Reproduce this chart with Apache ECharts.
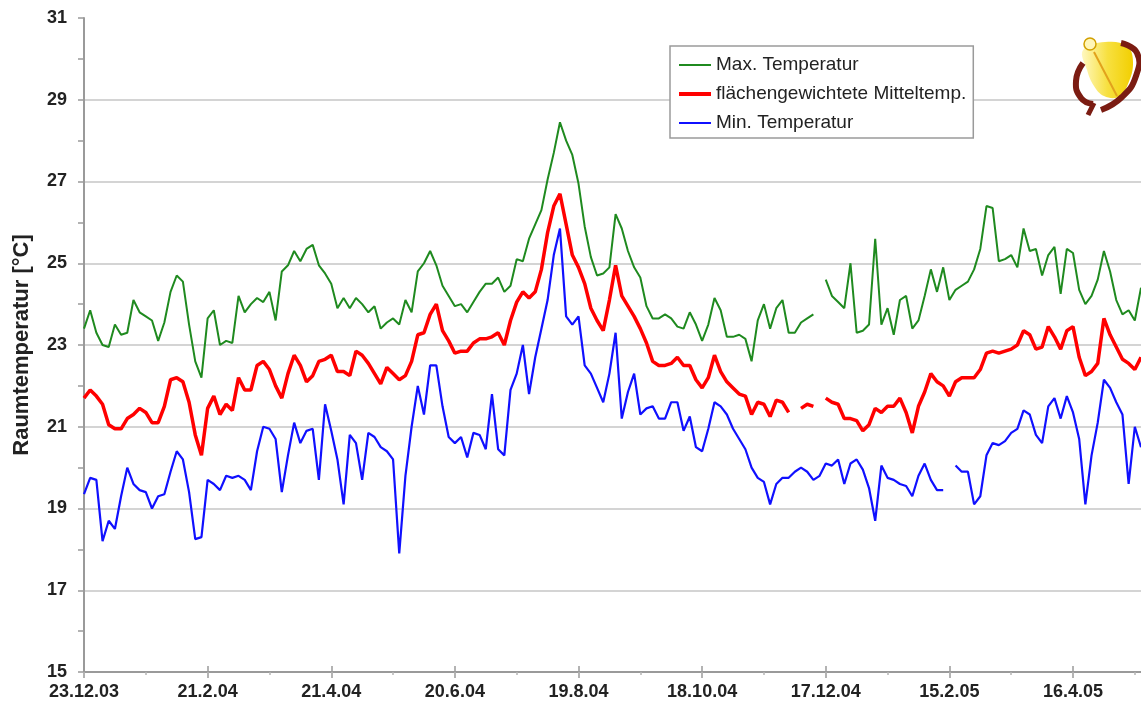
<!DOCTYPE html>
<html>
<head>
<meta charset="utf-8">
<script src="https://cdn.jsdelivr.net/npm/echarts@6/dist/echarts.min.js"></script>
<style>
html,body{margin:0;padding:0;background:#fff;}
#chart{width:1141px;height:710px;}
</style>
</head>
<body>
<div id="chart"></div>
<script>
// ---- data (one sample every 3 days, starting 23.12.2003) ----
const startDate = [2003, 12, 23];
const stepDays = 3;
const tickLabels = ['23.12.03','21.2.04','21.4.04','20.6.04','19.8.04','18.10.04','17.12.04','15.2.05','16.4.05'];
const seriesNames = ['Max. Temperatur', 'flächengewichtete Mitteltemp.', 'Min. Temperatur'];

const maxTemp = [
 23.4,23.85,23.3,23.0,22.95,23.5,23.25,23.3,24.1,23.8,
 23.7,23.6,23.1,23.55,24.3,24.7,24.55,23.5,22.6,22.2,
 23.65,23.85,23.0,23.1,23.05,24.2,23.8,24.0,24.15,24.05,
 24.3,23.6,24.8,24.95,25.3,25.05,25.35,25.45,24.95,24.75,
 24.5,23.9,24.15,23.9,24.15,24.0,23.8,23.95,23.4,23.55,
 23.65,23.5,24.1,23.8,24.8,25.0,25.3,24.95,24.45,24.2,
 23.95,24.0,23.8,24.05,24.3,24.5,24.5,24.65,24.3,24.45,
 25.1,25.05,25.6,25.95,26.3,27.05,27.7,28.45,28.0,27.65,
 26.95,25.9,25.15,24.7,24.75,24.9,26.2,25.85,25.3,24.9,
 24.65,23.95,23.65,23.65,23.75,23.65,23.45,23.4,23.8,23.5,
 23.1,23.5,24.15,23.85,23.2,23.2,23.25,23.15,22.6,23.6,
 24.0,23.4,23.9,24.1,23.3,23.3,23.55,23.65,23.75,null,
 24.6,24.2,24.05,23.9,25.0,23.3,23.35,23.5,25.6,23.5,
 23.9,23.25,24.1,24.2,23.4,23.6,24.2,24.85,24.3,24.9,
 24.1,24.35,24.45,24.55,24.85,25.35,26.4,26.35,25.05,25.1,
 25.2,24.9,25.85,25.3,25.35,24.7,25.2,25.4,24.25,25.35,
 25.25,24.35,24.0,24.2,24.6,25.3,24.8,24.1,23.75,23.85,
 23.6,24.4
];
const meanTemp = [
 21.7,21.9,21.75,21.55,21.05,20.95,20.95,21.2,21.3,21.45,
 21.35,21.1,21.1,21.5,22.15,22.2,22.1,21.6,20.8,20.3,
 21.45,21.75,21.3,21.55,21.4,22.2,21.9,21.9,22.5,22.6,
 22.4,22.0,21.7,22.3,22.75,22.5,22.1,22.25,22.6,22.65,
 22.75,22.35,22.35,22.25,22.85,22.75,22.55,22.3,22.05,22.45,
 22.3,22.15,22.25,22.6,23.25,23.3,23.75,24.0,23.35,23.1,
 22.8,22.85,22.85,23.05,23.15,23.15,23.2,23.3,23.0,23.6,
 24.05,24.3,24.15,24.3,24.85,25.75,26.4,26.7,25.95,25.2,
 24.9,24.5,23.9,23.6,23.35,24.1,24.95,24.2,23.95,23.7,
 23.4,23.05,22.6,22.5,22.5,22.55,22.7,22.5,22.5,22.15,
 21.95,22.2,22.75,22.35,22.1,21.95,21.8,21.75,21.3,21.6,
 21.55,21.25,21.65,21.6,21.35,null,21.45,21.55,21.5,null,
 21.7,21.6,21.55,21.2,21.2,21.15,20.9,21.05,21.45,21.35,
 21.5,21.5,21.7,21.35,20.85,21.5,21.85,22.3,22.1,22.0,
 21.75,22.1,22.2,22.2,22.2,22.4,22.8,22.85,22.8,22.85,
 22.9,23.0,23.35,23.25,22.9,22.95,23.45,23.2,22.9,23.35,
 23.45,22.7,22.25,22.35,22.55,23.65,23.25,22.95,22.65,22.55,
 22.4,22.7
];
const minTemp = [
 19.35,19.75,19.7,18.2,18.7,18.5,19.3,20.0,19.6,19.45,
 19.4,19.0,19.3,19.35,19.9,20.4,20.2,19.4,18.25,18.3,
 19.7,19.6,19.45,19.8,19.75,19.8,19.7,19.45,20.4,21.0,
 20.95,20.7,19.4,20.3,21.1,20.6,20.9,20.95,19.7,21.55,
 20.9,20.2,19.1,20.8,20.6,19.7,20.85,20.75,20.5,20.4,
 20.2,17.9,19.8,21.0,22.0,21.3,22.5,22.5,21.5,20.75,
 20.6,20.75,20.25,20.85,20.8,20.45,21.8,20.45,20.3,21.9,
 22.3,23.0,21.8,22.7,23.4,24.1,25.2,25.85,23.7,23.5,
 23.7,22.5,22.3,21.95,21.6,22.3,23.3,21.2,21.85,22.3,
 21.3,21.45,21.5,21.2,21.2,21.6,21.6,20.9,21.25,20.5,
 20.4,20.95,21.6,21.5,21.3,20.95,20.7,20.45,20.0,19.75,
 19.65,19.1,19.6,19.75,19.75,19.9,20.0,19.9,19.7,19.8,
 20.1,20.05,20.2,19.6,20.1,20.2,19.95,19.5,18.7,20.05,
 19.75,19.7,19.6,19.55,19.3,19.8,20.1,19.7,19.45,19.45,
 null,20.05,19.9,19.9,19.1,19.3,20.3,20.6,20.55,20.65,
 20.85,20.95,21.4,21.3,20.8,20.6,21.5,21.7,21.2,21.75,
 21.35,20.7,19.1,20.3,21.1,22.15,21.95,21.6,21.3,19.6,
 21.0,20.5
];

// categories: the sample dates
const categories = maxTemp.map(function (_, i) {
  const d = new Date(Date.UTC(startDate[0], startDate[1] - 1, startDate[2] + i * stepDays));
  return d.getUTCDate() + '.' + (d.getUTCMonth() + 1) + '.' + String(d.getUTCFullYear()).slice(2);
});
const labelEvery = 20; // 60 days

const FONT = '"Liberation Sans", Arial, sans-serif';
const GRID_GRAY = '#c6c6c6';
const AXIS_GRAY = '#9a9a9a';
const COLORS = ['#1f8a1f', '#ff0000', '#1010ff'];
const WIDTHS = [2, 3.5, 2.2];

// split line colours for ticks 15..31 (lines only at 17..29 odd)
const splitColors = [];
for (let v = 15; v <= 31; v++) {
  splitColors.push((v % 2 === 1 && v > 15 && v < 31) ? GRID_GRAY : 'rgba(0,0,0,0)');
}

const chart = echarts.init(document.getElementById('chart'), null, {renderer: 'canvas'});

const baseX = {
  type: 'category',
  data: categories,
  boundaryGap: false,
  gridIndex: 0,
  position: 'bottom'
};

chart.setOption({
  animation: false,
  backgroundColor: '#ffffff',
  grid: {left: 84, right: 0, top: 18, bottom: 38, containLabel: false},
  legend: {
    orient: 'vertical',
    left: 670,
    top: 46,
    padding: [9, 7, 5, 7],
    itemGap: 9,
    itemWidth: 32,
    itemHeight: 14,
    borderColor: '#9a9a9a',
    borderWidth: 1.5,
    backgroundColor: '#ffffff',
    itemStyle: {opacity: 0},
    textStyle: {fontFamily: FONT, fontSize: 19, color: '#222', lineHeight: 20},
    data: seriesNames.map(function (n, i) {
      return {name: n, lineStyle: {color: COLORS[i], width: i === 1 ? 4 : 2}};
    })
  },
  xAxis: [
    Object.assign({}, baseX, {
      axisLine: {show: true, lineStyle: {color: AXIS_GRAY, width: 2}},
      axisTick: {show: true, interval: labelEvery - 1, length: 6, lineStyle: {color: AXIS_GRAY, width: 1.5}},
      axisLabel: {
        show: true,
        interval: labelEvery - 1,
        margin: 11,
        fontFamily: FONT, fontSize: 18, fontWeight: 'bold', color: '#222',
        formatter: function (value, index) {
          return index % labelEvery === 0 ? tickLabels[index / labelEvery] : '';
        }
      },
      splitLine: {show: false}
    }),
    Object.assign({}, baseX, {
      axisLine: {show: false},
      axisTick: {show: true, inside: true, interval: labelEvery - 1, length: 6, lineStyle: {color: AXIS_GRAY, width: 1.5}},
      axisLabel: {show: false},
      splitLine: {show: false}
    }),
    Object.assign({}, baseX, {
      axisLine: {show: false},
      axisTick: {show: true, interval: labelEvery / 2 - 1, length: 3, lineStyle: {color: '#b5b5b5', width: 1.5}},
      axisLabel: {show: false},
      splitLine: {show: false}
    })
  ],
  yAxis: {
    type: 'value',
    min: 15,
    max: 31,
    interval: 1,
    name: 'Raumtemperatur [°C]',
    nameLocation: 'middle',
    nameRotate: 90,
    nameGap: 51,
    nameTextStyle: {fontFamily: FONT, fontSize: 22, fontWeight: 'bold', color: '#222'},
    axisLine: {show: true, lineStyle: {color: AXIS_GRAY, width: 2}},
    axisTick: {show: true, length: 6, lineStyle: {color: AXIS_GRAY, width: 1.5}},
    axisLabel: {
      margin: 17,
      fontFamily: FONT, fontSize: 18, fontWeight: 'bold', color: '#222',
      formatter: function (v) { return (v % 2 === 1) ? String(v) : ''; }
    },
    splitLine: {show: true, lineStyle: {color: splitColors, width: 1.5}}
  },
  series: [
    {name: seriesNames[0], type: 'line', data: maxTemp, xAxisIndex: 0, symbol: 'none',
     lineStyle: {color: COLORS[0], width: WIDTHS[0]}, itemStyle: {color: COLORS[0]}, connectNulls: false, z: 3},
    {name: seriesNames[1], type: 'line', data: meanTemp, xAxisIndex: 0, symbol: 'none',
     lineStyle: {color: COLORS[1], width: WIDTHS[1]}, itemStyle: {color: COLORS[1]}, connectNulls: false, z: 4},
    {name: seriesNames[2], type: 'line', data: minTemp, xAxisIndex: 0, symbol: 'none',
     lineStyle: {color: COLORS[2], width: WIDTHS[2]}, itemStyle: {color: COLORS[2]}, connectNulls: false, z: 3}
  ],
  graphic: [
    {type: 'polygon', z: 10, shape: {points: [[1083,50],[1105,42],[1127,46],[1133,62],[1128,84],[1118,97],[1104,96],[1094,86],[1087,70]], smooth: 0.4},
     style: {fill: {type: 'linear', x: 0, y: 0, x2: 1, y2: 0, colorStops: [{offset: 0, color: '#fff8c0'}, {offset: 0.5, color: '#f7e040'}, {offset: 1, color: '#f2cf00'}]}}},
    {type: 'line', z: 11, shape: {x1: 1094, y1: 52, x2: 1117, y2: 96}, style: {stroke: '#e2a21c', lineWidth: 2}},
    {type: 'polyline', z: 12, shape: {points: [[1121,43],[1137,53],[1136,76],[1122,97],[1101,110]], smooth: 0.5},
     style: {stroke: '#7b1c12', lineWidth: 6, fill: null}},
    {type: 'polyline', z: 12, shape: {points: [[1083,63],[1076,81],[1081,98],[1093,104]], smooth: 0.5},
     style: {stroke: '#7b1c12', lineWidth: 6, fill: null}},
    {type: 'line', z: 12, shape: {x1: 1094, y1: 103, x2: 1088, y2: 115}, style: {stroke: '#7b1c12', lineWidth: 5}},
    {type: 'circle', z: 13, shape: {cx: 1090, cy: 44, r: 6}, style: {fill: '#fff6b8', stroke: '#d2a000', lineWidth: 1.5}}
  ]
});
</script>
</body>
</html>
